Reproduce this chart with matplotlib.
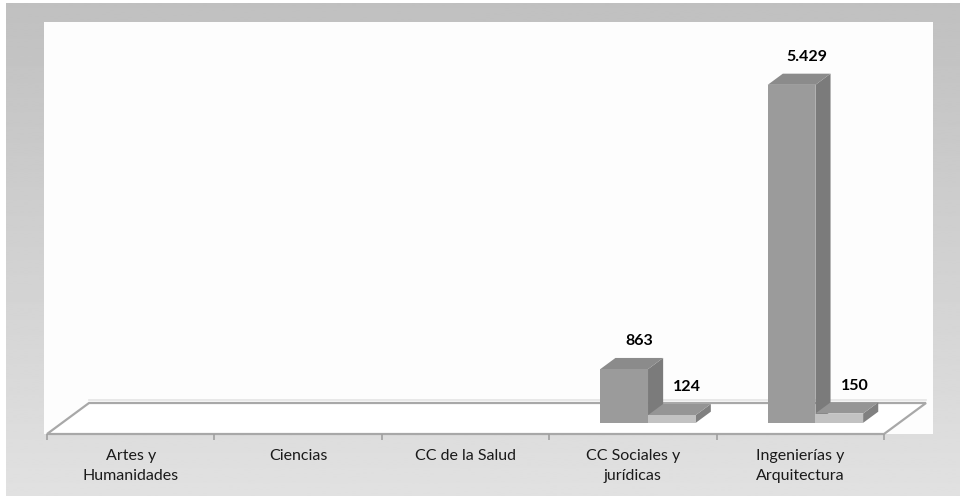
import numpy as np
import matplotlib.pyplot as plt
from matplotlib.patches import Polygon, Rectangle

# titulados por rama de conocimiento (dos series)
categorias = ['Artes y\nHumanidades', 'Ciencias', 'CC de la Salud',
              'CC Sociales y\njurídicas', 'Ingenierías y\nArquitectura']
serie1 = [0, 0, 0, 863, 5429]
serie2 = [0, 0, 0, 124, 150]

# colores de cara frontal / superior / lateral
col1 = ('#9b9b9b', '#8b8b8b', '#7b7b7b')
col2 = ('#c2c2c2', '#959595', '#808080')

W, H = 960, 496
fig = plt.figure(figsize=(W / 100, H / 100), dpi=100)
plt.rcParams['font.family'] = ['Lato', 'DejaVu Sans']

# fondo degradado gris y panel blanco
bg = fig.add_axes([0, 0, 1, 1], zorder=-2)
bg.set_xlim(0, W)
bg.set_ylim(H, 0)
bg.axis('off')
grad = np.linspace(192, 225, 256).reshape(-1, 1) / 255.
bg.imshow(grad, cmap='gray', vmin=0, vmax=1, aspect='auto',
          extent=(6, W, H, 3), interpolation='bilinear')
bg.add_patch(Rectangle((44, 22), 889, 412, facecolor='#fdfdfd', edgecolor='none'))

# ejes de datos: categorías en x, valores en y
ax = fig.add_axes([47 / W, 62 / H, 837 / W, 412 / H])
ax.patch.set_alpha(0)
ymax = 412 / 0.06226
ax.set_xlim(0, 5)
ax.set_ylim(0, ymax)
for s in ax.spines.values():
    s.set_visible(False)

# vector de profundidad en unidades de datos
DX = 42 / 167.4
DY = 31 / 0.06226

def pt(x, y, d):
    return (x + d * DX, y + d * DY)

# suelo en perspectiva
suelo = [pt(0, 0, 0), pt(5, 0, 0), pt(5, 0, 1), pt(0, 0, 1)]
ax.add_patch(Polygon(suelo, closed=True, facecolor='white', edgecolor='#a8a8a8',
                     lw=1.6, zorder=1, clip_on=False))
ax.plot([pt(0, 0, 1)[0], pt(5, 0, 1)[0]], [pt(0, 0, 1)[1] + 55] * 2,
        color='#e4e4e4', lw=1.2, zorder=1, clip_on=False)

def barra(x0, ancho, v, cols, d0=0.36, d1=0.72):
    fr, tp, sd = cols
    x1 = x0 + ancho
    cara = [pt(x0, 0, d0), pt(x1, 0, d0), pt(x1, v, d0), pt(x0, v, d0)]
    techo = [pt(x0, v, d0), pt(x1, v, d0), pt(x1, v, d1), pt(x0, v, d1)]
    lado = [pt(x1, 0, d0), pt(x1, 0, d1), pt(x1, v, d1), pt(x1, v, d0)]
    for poly, c in ((lado, sd), (techo, tp), (cara, fr)):
        ax.add_patch(Polygon(poly, closed=True, facecolor=c, edgecolor='none',
                             zorder=3, clip_on=False))
    return pt(x0 + ancho / 2, v, d1)

ancho = 0.285
for i in range(len(categorias)):
    for j, (vals, cols) in enumerate(((serie1, col1), (serie2, col2))):
        v = vals[i]
        if v <= 0:
            continue
        x0 = i + 0.5 - ancho + j * ancho
        tx, ty = barra(x0, ancho, v, cols)
        etiqueta = f'{v:,}'.replace(',', '.')
        ax.annotate(etiqueta, (tx, ty), xytext=(0, 7), textcoords='offset points',
                    ha='center', va='bottom', fontsize=11.5, fontweight='bold',
                    color='black', zorder=4)

# marcas y etiquetas del eje x
ax.set_xticks(np.arange(6))
ax.set_xticklabels([])
ax.set_xticks(np.arange(5) + 0.5, categorias, minor=True)
ax.tick_params(axis='x', which='major', length=4, width=1.2, color='#a0a0a0', direction='out')
ax.tick_params(axis='x', which='minor', length=0, pad=11, labelsize=11.5, labelcolor='#1a1a1a')
for lbl in ax.get_xticklabels(minor=True):
    lbl.set_linespacing(1.5)
ax.set_yticks([])

fig.savefig('out.png', dpi=100)
